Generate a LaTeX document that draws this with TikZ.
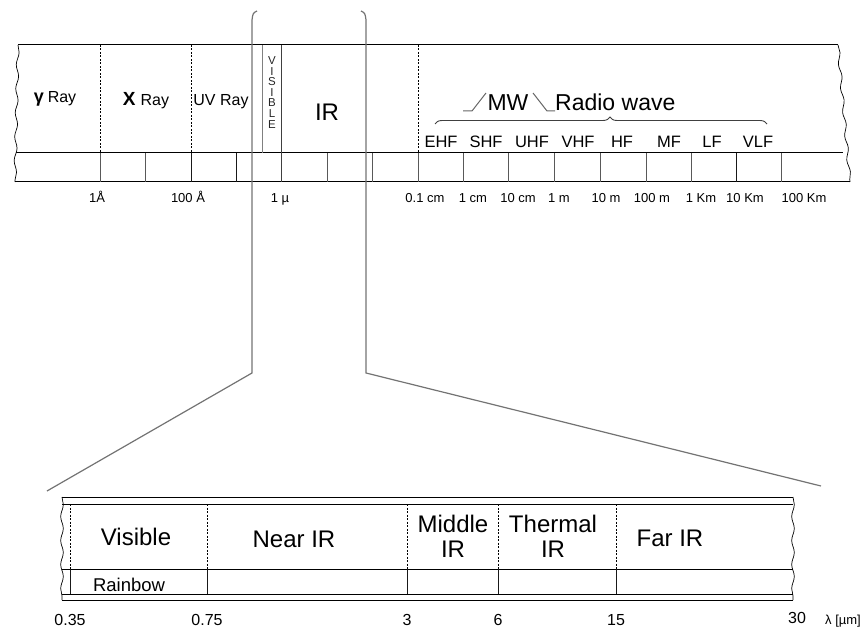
\documentclass[tikz,border=0pt]{standalone}
\usepackage{fontspec}
\setmainfont{Liberation Sans}
\usetikzlibrary{decorations.pathreplacing,decorations.pathmorphing}
\newcommand{\myfs}[1]{\fontsize{#1}{#1}\selectfont}
\begin{document}
\begin{tikzpicture}[x=1pt,y=-1pt,
  band/.style={black,line width=1pt},
  divline/.style={black,line width=0.8pt,dash pattern=on 2pt off 1.5pt},
  tickline/.style={black!65,line width=1pt},
  tickdark/.style={black!90,line width=1pt},
  brk/.style={black!55,line width=1.2pt},
  wavyedge/.style={black,line width=0.7pt,decorate,decoration={snake,amplitude=1.3pt,segment length=24pt}},
  lbl/.style={inner sep=0pt,anchor=base},
  toplbl/.style={lbl,font=\myfs{16}},
  freq/.style={lbl,font=\myfs{16.5}},
  wl/.style={lbl,font=\myfs{13}},
  big/.style={lbl,font=\myfs{24}},
  num/.style={lbl,font=\myfs{16}}]
\useasboundingbox (0,0) rectangle (865,628);

% ---------- top band ----------
\draw[band] (18,45) -- (838,45);
\draw[band] (16,153) -- (843,153);
\draw[band] (15,182) -- (850,182);
\draw[wavyedge] (18,45) -- (15,182);
\draw[wavyedge] (838,45) -- (850,182);

% dashed region boundaries
\foreach \x in {100,191,418} \draw[divline] (\x,45) -- (\x,153);
% visible lines
\draw[black!50,line width=1pt] (262,45) -- (262,153);
\draw[black!75,line width=1pt] (281,45) -- (281,182);

% scale ticks
\foreach \x in {100,145,327,372,418,463,508,554,600,646,691,781} \draw[tickline] (\x,153) -- (\x,182);
\foreach \x in {191,236,736} \draw[tickdark] (\x,153) -- (\x,182);

% bracket lines (zoom)
\draw[brk] (257,11) .. controls (253,13) .. (252,20) -- (252,373) -- (47,491);
\draw[brk] (361,11) .. controls (365,13) .. (366,20) -- (366,373) -- (821,486);

% top labels
\node[lbl,font=\myfs{16}] (gam) at (55,103) {{\myfs{18}\bfseries γ}\hspace{4pt}Ray};
\node[lbl,font=\myfs{16}] (xray) at (146,106) {{\myfs{19}\bfseries X}\hspace{5pt}Ray};
\node[toplbl] (uv) at (221,106) {UV Ray};
\foreach \l [count=\i] in {V,I,S,I,B,L,E}
  \node[lbl,font=\myfs{11.5},text=black!85] (vis\i) at (272,64.5+10.6*\i-10.6) {\l};
\node[lbl,font=\myfs{24}] (ir) at (327,121) {IR};

% MW / radio wave
\node[lbl,font=\myfs{23}] (mw) at (508,111) {MW};
\node[lbl,font=\myfs{23},anchor=base west] (radio) at (555,111) {Radio wave};
\draw[black!60,line width=1pt] (463,111) -- (472,111) -- (486,93);
\draw[black!60,line width=1pt] (533,93) -- (547,111) -- (555,111);
\draw[black!75,line width=0.9pt,decorate,decoration={brace,amplitude=7pt,aspect=0.527}] (435,124) -- (767,124);

% frequency bands
\node[freq] (ehf) at (441,148) {EHF};
\node[freq] (shf) at (486,148) {SHF};
\node[freq] (uhf) at (532,148) {UHF};
\node[freq] (vhf) at (578,148) {VHF};
\node[freq] (hf) at (622,148) {HF};
\node[freq] (mf) at (669,148) {MF};
\node[freq] (lf) at (712,148) {LF};
\node[freq] (vlf) at (758,148) {VLF};

% wavelength labels
\node[wl] (w1) at (97,203) {1Å};
\node[wl] (w2) at (188,203) {100 Å};
\node[wl] (w3) at (280,203) {1 µ};
\node[wl] (w4) at (425,203) {0.1 cm};
\node[wl] (w5) at (473,203) {1 cm};
\node[wl] (w6) at (518,203) {10 cm};
\node[wl] (w7) at (559,203) {1 m};
\node[wl] (w8) at (606,203) {10 m};
\node[wl] (w9) at (652,203) {100 m};
\node[wl] (w10) at (701,203) {1 Km};
\node[wl] (w11) at (745,203) {10 Km};
\node[wl] (w12) at (804,203) {100 Km};

% ---------- lower (IR detail) band ----------
\draw[band] (62,497) -- (793,497);
\draw[band] (62,504) -- (793,504);
\draw[band] (62,569) -- (793,569);
\draw[band] (62,594) -- (793,594);
\draw[band] (62,600) -- (793,600);
\draw[wavyedge] (62,497) -- (62,600);
\draw[wavyedge] (793,497) -- (793,600);

\foreach \x in {70,207,407,498,616} {
  \draw[divline] (\x,504) -- (\x,569);
  \draw[tickdark] (\x,569) -- (\x,594);
}

\node[big] (visible) at (136,545) {Visible};
\node[big] (near) at (294,547) {Near IR};
\node[big] (mid1) at (453,532) {Middle};
\node[big] (mid2) at (453,557) {IR};
\node[big] (therm1) at (553,532) {Thermal};
\node[big] (therm2) at (553,557) {IR};
\node[big] (far) at (670,546) {Far IR};
\node[lbl,font=\myfs{18.5}] (rain) at (129,591) {Rainbow};

\node[num] (n1) at (70,625) {0.35};
\node[num] (n2) at (207,625) {0.75};
\node[num] (n3) at (407,625) {3};
\node[num] (n4) at (498,625) {6};
\node[num] (n5) at (616,625) {15};
\node[num] (n6) at (797,623) {30};
\node[lbl,font=\myfs{13}] (unit) at (843,624) {λ [µm]};
\end{tikzpicture}
\end{document}
